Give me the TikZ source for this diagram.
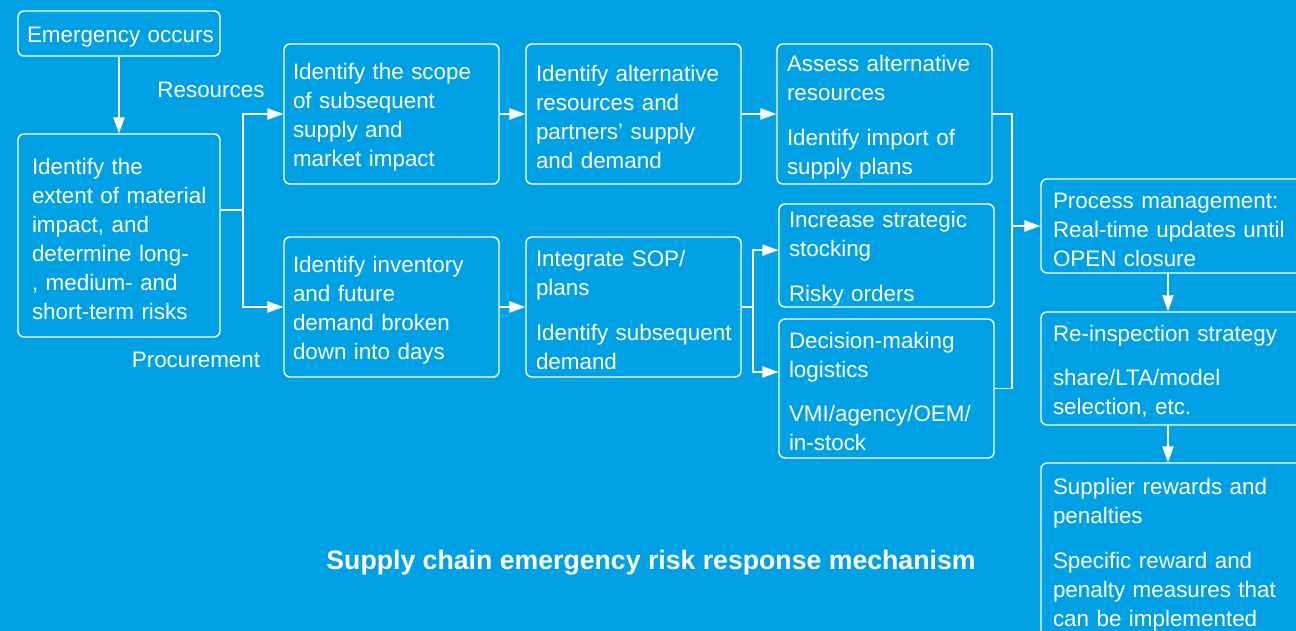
\documentclass[tikz,border=0pt]{standalone}
\usepackage{fontspec}
\setmainfont{Liberation Sans}
\usetikzlibrary{arrows.meta}
\definecolor{bg}{RGB}{0,160,228}
\begin{document}
\begin{tikzpicture}[x=0.75pt,y=-0.75pt,
  box/.style={draw=white, line width=1.1pt, rounded corners=4.5pt, text=white, align=left, inner ysep=0pt, font=\fontsize{16.8}{21.75}\selectfont, execute at begin node={\rule{0pt}{16.8pt}}},
  wbox/.style={box, minimum width=161.25pt, inner xsep=7.5pt, text width=146.25pt},
  rbox/.style={box, minimum width=198.75pt, inner xsep=9pt, text width=180.75pt},
  conn/.style={draw=white, line width=1.1pt},
  arr/.style={conn, -{Triangle[length=12pt,width=8.5pt]}},
  lbl/.style={text=white, font=\fontsize{16.8}{21.75}\selectfont, inner sep=0pt}]
\fill[bg] (0,0) rectangle (1296,631);
\useasboundingbox (0,0) rectangle (1296,631);

\node[box, minimum width=151.5pt, minimum height=33.75pt, inner xsep=6.75pt, text width=138pt] (emerg) at (119,33.5) {\mbox{Emergency occurs}};
\node[box, minimum width=151.5pt, minimum height=152.25pt, inner xsep=10.5pt, text width=130.5pt] (extent) at (119,235.5) {Identify the\\ \mbox{extent of material}\\ impact, and\\ determine long-\\ , medium- and\\ short-term risks};

\node[box, minimum width=161.25pt, minimum height=105pt, inner xsep=6.75pt, text width=147.75pt] (scope) at (391.5,114) {Identify the scope\\ of subsequent\\ supply and\\ market impact};
\node[box, minimum width=161.25pt, minimum height=105pt, inner xsep=6.75pt, text width=147.75pt] (inventory) at (391.5,307) {Identify inventory\\ and future\\ demand broken\\ down into days};

\node[wbox, minimum height=105pt] (altres) at (633.5,114) {Identify alternative\\ resources and\\ partners’ supply\\ and demand};
\node[wbox, minimum height=105pt] (sop) at (633.5,307) {Integrate SOP/\\ plans\\[11.5pt] \mbox{Identify subsequent}\\ demand};

\node[wbox, minimum height=105pt] (assess) at (884.5,114) {Assess alternative\\ resources\\[11.5pt] Identify import of\\ supply plans};
\node[wbox, minimum height=77.25pt] (increase) at (886.5,255.5) {Increase strategic\\ stocking\\[11.5pt] Risky orders};
\node[wbox, minimum height=104.25pt] (decision) at (886.5,388.5) {Decision-making\\ logistics\\[11.5pt] VMI/agency/OEM/\\ in-stock};

\node[rbox, minimum height=70.5pt] (process) at (1173.5,226) {Process management:\\ \mbox{Real-time updates until}\\ OPEN closure};
\node[rbox, minimum height=84.75pt] (reinsp) at (1173.5,368.5) {Re-inspection strategy\\[11.5pt] share/LTA/model\\ selection, etc.};
\node[rbox, minimum height=132.75pt] (supplier) at (1173.5,551.5) {Supplier rewards and\\ penalties\\[11.5pt] Specific reward and\\ penalty measures that\\ can be implemented};

\node[lbl] (res) at (211,90) {Resources};
\node[lbl] (proc) at (196,360) {Procurement};
\node[text=white, inner sep=0pt, font=\bfseries\fontsize{20}{24}\selectfont] (title) at (651,563) {Supply chain emergency risk response mechanism};

\draw[arr] (emerg) -- (extent);
\coordinate (f1) at (243,210);
\draw[conn] (extent.east |- f1) -- (f1);
\draw[arr] (f1) |- (scope.west);
\draw[arr] (f1) |- (inventory.west);
\draw[arr] (scope.east) -- (altres.west);
\draw[arr] (inventory.east) -- (sop.west);
\draw[arr] (altres.east) -- (assess.west);
\coordinate (f2) at (753,307);
\draw[conn] (sop.east) -- (f2);
\draw[arr] (f2) |- ([yshift=4pt]increase.west);
\draw[arr] (f2) |- ([yshift=12.4pt]decision.west);
\coordinate (f3) at (1012,226);
\draw[conn] (assess.east) -| (f3) |- (decision.east);
\draw[arr] (f3) -- (process.west);
\coordinate (c1) at (1168,0);
\draw[arr] (process.south -| c1) -- (reinsp.north -| c1);
\draw[arr] (reinsp.south -| c1) -- (supplier.north -| c1);
\end{tikzpicture}
\end{document}
